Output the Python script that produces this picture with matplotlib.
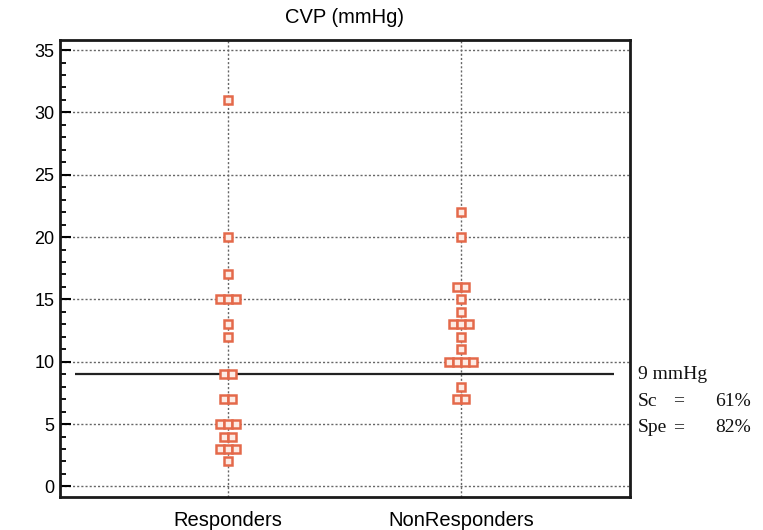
import matplotlib
matplotlib.use("Agg")
import matplotlib.pyplot as plt
import numpy as np
from matplotlib.ticker import MultipleLocator

# CVP values per group, one entry per patient
responders = [31, 20, 17, 15, 15, 15, 13, 12, 9, 9, 7, 7,
              5, 5, 5, 4, 4, 3, 3, 3, 2]
nonresponders = [22, 20, 16, 16, 15, 14, 13, 13, 13, 12, 11,
                 10, 10, 10, 10, 8, 7, 7]
groups = ["Responders", "NonResponders"]
cutoff = 9
cutoff_label = "9 mmHg"
stats = [("Sc", "61%"), ("Spe", "82%")]

plt.rcParams['font.family'] = ['Liberation Sans', 'DejaVu Sans']
serif = ['Liberation Serif', 'DejaVu Serif']

fig = plt.figure(figsize=(7.63, 5.30), dpi=100)
ax = fig.add_axes([0.0786, 0.0623, 0.747, 0.862])

step = 0.034  # horizontal spacing between tied values
for i, vals in enumerate([responders, nonresponders], start=1):
    vals = np.array(vals)
    for v in np.unique(vals):
        n = np.sum(vals == v)
        xs = i + (np.arange(n) - (n - 1) / 2) * step
        ax.plot(xs, [v] * n, linestyle='none', marker='s', markersize=6,
                markerfacecolor='#fdebe4', markeredgecolor='#e4694a',
                markeredgewidth=1.8, zorder=3)

ax.hlines(cutoff, 0.345, 2.655, color='#222222', linewidth=1.6, zorder=2)

ax.set_xlim(0.279, 2.725)
ax.set_ylim(-0.85, 35.8)
ax.set_xticks([1, 2])
ax.set_xticklabels(groups, fontsize=14.5)
ax.tick_params(axis='x', length=0, pad=10)
ax.yaxis.set_major_locator(MultipleLocator(5))
ax.yaxis.set_minor_locator(MultipleLocator(1))
ax.tick_params(axis='y', which='major', direction='in', length=8, width=1.5,
               labelsize=13, pad=4)
ax.tick_params(axis='y', which='minor', direction='in', length=4, width=1.3)

ax.grid(True, which='major', linestyle=(0, (1.5, 1.5)), color='#666666', linewidth=1)
for s in ax.spines.values():
    s.set_linewidth(2)
    s.set_color('#1a1a1a')

ax.set_title("CVP (mmHg)", fontsize=14.5, pad=12)

# cutoff annotation to the right of the frame
ax.text(1.014, 0.267, cutoff_label, transform=ax.transAxes, family=serif,
        fontsize=14, color='#111111', va='center', ha='left')
for k, (name, val) in enumerate(stats):
    y = 0.210 - k * 0.059
    ax.text(1.014, y, name, transform=ax.transAxes, family=serif,
            fontsize=14, color='#111111', va='center', ha='left')
    ax.text(1.075, y, "=", transform=ax.transAxes, family=serif,
            fontsize=14, color='#111111', va='center', ha='left')
    ax.text(1.213, y, val, transform=ax.transAxes, family=serif,
            fontsize=14, color='#111111', va='center', ha='right')

plt.savefig('out.png', dpi=100, facecolor='white')
